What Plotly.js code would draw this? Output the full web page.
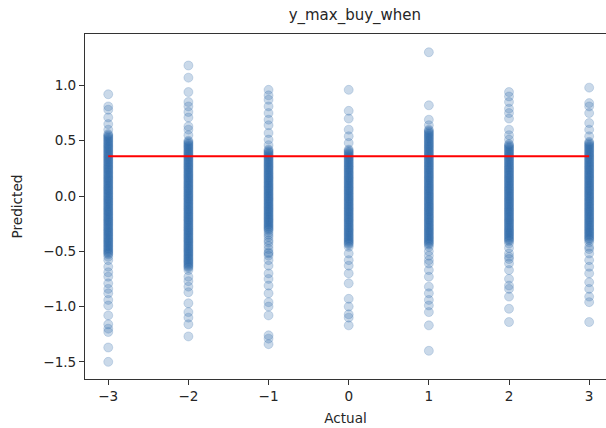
<!DOCTYPE html>
<html>
<head>
<meta charset="utf-8">
<script src="https://cdn.plot.ly/plotly-3.0.1.min.js"></script>
<style>html,body{margin:0;padding:0;background:#fff;}#chart{width:606px;height:428px;}</style>
</head>
<body>
<div id="chart"></div>
<script>
// Actual levels (x categories)
const actualLevels = [-3, -2, -1, 0, 1, 2, 3];

// Predicted values read per actual level (dense cores typed at ~0.01 spacing)
const predAtM3 = [0.92,0.81,0.78,0.71,0.65,0.60,
  0.56,0.55,0.54,0.53,0.52,0.51,0.50,0.49,0.48,0.47,
  0.46,0.45,0.44,0.43,0.42,0.41,0.40,0.39,0.38,0.37,
  0.36,0.35,0.34,0.33,0.32,0.31,0.30,0.29,0.28,0.27,
  0.26,0.25,0.24,0.23,0.22,0.21,0.20,0.19,0.18,0.17,
  0.16,0.15,0.14,0.13,0.12,0.11,0.10,0.09,0.08,0.07,
  0.06,0.05,0.04,0.03,0.02,0.01,0.00,-0.01,-0.02,-0.03,
  -0.04,-0.05,-0.06,-0.07,-0.08,-0.09,-0.10,-0.11,-0.12,-0.13,
  -0.14,-0.15,-0.16,-0.17,-0.18,-0.19,-0.20,-0.21,-0.22,-0.23,
  -0.24,-0.25,-0.26,-0.27,-0.28,-0.29,-0.30,-0.31,-0.32,-0.33,
  -0.34,-0.35,-0.36,-0.37,-0.38,-0.39,-0.40,-0.41,-0.42,-0.43,
  -0.44,-0.45,-0.46,-0.47,-0.48,-0.49,-0.50,-0.51,-0.52,-0.53,-0.55,
  -0.58,-0.64,-0.69,-0.73,-0.79,-0.84,-0.88,-0.94,-0.99,-1.08,-1.16,-1.20,-1.23,-1.37,-1.50];
const predAtM2 = [1.18,1.07,0.94,0.85,0.81,0.76,0.71,0.63,0.60,0.55,
  0.50,0.49,0.48,0.47,0.46,0.45,0.44,0.43,0.42,0.41,
  0.40,0.39,0.38,0.37,0.36,0.35,0.34,0.33,0.32,0.31,
  0.30,0.29,0.28,0.27,0.26,0.25,0.24,0.23,0.22,0.21,
  0.20,0.19,0.18,0.17,0.16,0.15,0.14,0.13,0.12,0.11,
  0.10,0.09,0.08,0.07,0.06,0.05,0.04,0.03,0.02,0.01,
  0.00,-0.01,-0.02,-0.03,-0.04,-0.05,-0.06,-0.07,-0.08,-0.09,
  -0.10,-0.11,-0.12,-0.13,-0.14,-0.15,-0.16,-0.17,-0.18,-0.19,
  -0.20,-0.21,-0.22,-0.23,-0.24,-0.25,-0.26,-0.27,-0.28,-0.29,
  -0.30,-0.31,-0.32,-0.33,-0.34,-0.35,-0.36,-0.37,-0.38,-0.39,
  -0.40,-0.41,-0.42,-0.43,-0.44,-0.45,-0.46,-0.47,-0.48,-0.49,
  -0.50,-0.51,-0.52,-0.53,-0.54,-0.55,-0.56,-0.57,-0.58,-0.59,
  -0.60,-0.61,-0.62,-0.63,-0.64,-0.65,-0.67,
  -0.73,-0.77,-0.82,-0.87,-0.97,-1.05,-1.10,-1.16,-1.27];
const predAtM1 = [0.96,0.91,0.87,0.81,0.75,0.69,0.64,0.57,0.51,0.46,
  0.42,0.41,0.40,0.39,0.38,0.37,0.36,0.35,0.34,0.33,
  0.32,0.31,0.30,0.29,0.28,0.27,0.26,0.25,0.24,0.23,
  0.22,0.21,0.20,0.19,0.18,0.17,0.16,0.15,0.14,0.13,
  0.12,0.11,0.10,0.09,0.08,0.07,0.06,0.05,0.04,0.03,
  0.02,0.01,0.00,-0.01,-0.02,-0.03,-0.04,-0.05,-0.06,-0.07,
  -0.08,-0.09,-0.10,-0.11,-0.12,-0.13,-0.14,-0.15,-0.16,-0.17,
  -0.18,-0.19,-0.20,-0.21,-0.22,-0.23,-0.24,-0.25,-0.26,-0.27,
  -0.28,-0.29,-0.30,-0.31,-0.33,-0.35,
  -0.37,-0.40,-0.42,-0.45,-0.48,-0.51,-0.52,-0.54,-0.58,-0.63,
  -0.70,-0.75,-0.81,-0.88,-0.96,-1.00,-1.08,-1.26,-1.29,-1.34];
const predAt0 = [0.96,0.77,0.70,0.60,0.54,0.48,
  0.42,0.41,0.40,0.39,0.38,0.37,0.36,0.35,0.34,0.33,
  0.32,0.31,0.30,0.29,0.28,0.27,0.26,0.25,0.24,0.23,
  0.22,0.21,0.20,0.19,0.18,0.17,0.16,0.15,0.14,0.13,
  0.12,0.11,0.10,0.09,0.08,0.07,0.06,0.05,0.04,0.03,
  0.02,0.01,0.00,-0.01,-0.02,-0.03,-0.04,-0.05,-0.06,-0.07,
  -0.08,-0.09,-0.10,-0.11,-0.12,-0.13,-0.14,-0.15,-0.16,-0.17,
  -0.18,-0.19,-0.20,-0.21,-0.22,-0.23,-0.24,-0.25,-0.26,-0.27,
  -0.28,-0.29,-0.30,-0.31,-0.32,-0.33,-0.34,-0.35,-0.36,-0.37,
  -0.38,-0.39,-0.40,-0.41,-0.42,-0.43,-0.44,-0.46,
  -0.52,-0.58,-0.63,-0.70,-0.79,-0.93,-1.00,-1.07,-1.10,-1.17];
const predAtP1 = [1.30,0.82,0.69,0.64,
  0.60,0.59,0.58,0.57,0.56,0.55,0.54,0.53,0.52,0.51,
  0.50,0.49,0.48,0.47,0.46,0.45,0.44,0.43,0.42,0.41,
  0.40,0.39,0.38,0.37,0.36,0.35,0.34,0.33,0.32,0.31,
  0.30,0.29,0.28,0.27,0.26,0.25,0.24,0.23,0.22,0.21,
  0.20,0.19,0.18,0.17,0.16,0.15,0.14,0.13,0.12,0.11,
  0.10,0.09,0.08,0.07,0.06,0.05,0.04,0.03,0.02,0.01,
  0.00,-0.01,-0.02,-0.03,-0.04,-0.05,-0.06,-0.07,-0.08,-0.09,
  -0.10,-0.11,-0.12,-0.13,-0.14,-0.15,-0.16,-0.17,-0.18,-0.19,
  -0.20,-0.21,-0.22,-0.23,-0.24,-0.25,-0.26,-0.27,-0.28,-0.29,
  -0.30,-0.31,-0.32,-0.33,-0.34,-0.35,-0.36,-0.37,-0.38,-0.39,
  -0.40,-0.41,-0.42,-0.43,-0.44,-0.46,
  -0.50,-0.54,-0.58,-0.61,-0.67,-0.73,-0.82,-0.88,-0.94,-0.99,-1.05,-1.17,-1.40];
const predAtP2 = [0.94,0.90,0.85,0.79,0.75,0.70,0.60,0.55,0.51,
  0.47,0.46,0.45,0.44,0.43,0.42,0.41,0.40,0.39,0.38,
  0.37,0.36,0.35,0.34,0.33,0.32,0.31,0.30,0.29,0.28,
  0.27,0.26,0.25,0.24,0.23,0.22,0.21,0.20,0.19,0.18,
  0.17,0.16,0.15,0.14,0.13,0.12,0.11,0.10,0.09,0.08,
  0.07,0.06,0.05,0.04,0.03,0.02,0.01,0.00,-0.01,-0.02,
  -0.03,-0.04,-0.05,-0.06,-0.07,-0.08,-0.09,-0.10,-0.11,-0.12,
  -0.13,-0.14,-0.15,-0.16,-0.17,-0.18,-0.19,-0.20,-0.21,-0.22,
  -0.23,-0.24,-0.25,-0.26,-0.27,-0.28,-0.29,-0.30,-0.31,-0.32,
  -0.33,-0.34,-0.35,-0.36,-0.37,-0.38,-0.39,-0.40,-0.41,-0.43,
  -0.47,-0.52,-0.55,-0.57,-0.61,-0.67,-0.75,-0.81,-0.84,-0.91,-1.02,-1.14];
const predAtP3 = [0.98,0.84,0.81,0.75,0.66,0.60,0.54,
  0.49,0.48,0.47,0.46,0.45,0.44,0.43,0.42,0.41,0.40,
  0.39,0.38,0.37,0.36,0.35,0.34,0.33,0.32,0.31,0.30,
  0.29,0.28,0.27,0.26,0.25,0.24,0.23,0.22,0.21,0.20,
  0.19,0.18,0.17,0.16,0.15,0.14,0.13,0.12,0.11,0.10,
  0.09,0.08,0.07,0.06,0.05,0.04,0.03,0.02,0.01,0.00,
  -0.01,-0.02,-0.03,-0.04,-0.05,-0.06,-0.07,-0.08,-0.09,-0.10,
  -0.11,-0.12,-0.13,-0.14,-0.15,-0.16,-0.17,-0.18,-0.19,-0.20,
  -0.21,-0.22,-0.23,-0.24,-0.25,-0.26,-0.27,-0.28,-0.29,-0.30,
  -0.31,-0.32,-0.33,-0.34,-0.35,-0.36,-0.37,-0.38,-0.39,-0.40,-0.42,
  -0.46,-0.48,-0.52,-0.58,-0.64,-0.70,-0.78,-0.84,-0.91,-0.96,-1.14];

// Reference (mean prediction) line
const lineX = [-3, 3];
const lineY = [0.36, 0.36];

const xTicks = [-3, -2, -1, 0, 1, 2, 3];
const yTicks = [-1.5, -1.0, -0.5, 0.0, 0.5, 1.0];

const columns = [predAtM3, predAtM2, predAtM1, predAt0, predAtP1, predAtP2, predAtP3];
const xs = [], ys = [];
columns.forEach((col, i) => col.forEach(v => { xs.push(actualLevels[i]); ys.push(v); }));

const font = 'DejaVu Sans, sans-serif';
const txt = '#262626';
const traces = [
  {x: xs, y: ys, type: 'scatter', mode: 'markers',
   marker: {size: 9, color: 'rgba(44,104,168,0.25)', line: {width: 1, color: 'rgba(44,104,168,0.2)'}},
   hoverinfo: 'skip', showlegend: false},
  {x: lineX, y: lineY, type: 'scatter', mode: 'lines',
   line: {color: '#ff0000', width: 2}, hoverinfo: 'skip', showlegend: false}
];

const layout = {
  width: 606, height: 428,
  margin: {l: 85, r: 0, t: 34, b: 49, pad: 0},
  paper_bgcolor: '#fff', plot_bgcolor: '#fff',
  font: {family: font, color: txt, size: 13.6},
  title: {text: 'y_max_buy_when', font: {family: font, size: 15, color: txt},
          x: 0.518, xanchor: 'center', y: 1 - 15/428, yanchor: 'middle', xref: 'paper', yref: 'container'},
  xaxis: {range: [-3.29, 3.21], tickmode: 'array', tickvals: xTicks, ticktext: xTicks.map(v => v < 0 ? '\u2212' + Math.abs(v) : String(v)),
          showgrid: false, zeroline: false, showline: true, linecolor: '#333', linewidth: 1, mirror: true,
          ticks: 'outside', ticklen: 5, tickcolor: '#333', tickfont: {family: font, size: 13.6, color: txt},
          title: {text: 'Actual', font: {family: font, size: 13.6, color: txt}, standoff: 10}},
  yaxis: {range: [-1.655, 1.465], tickmode: 'array', tickvals: yTicks, ticktext: yTicks.map(v => (v < 0 ? '\u2212' : '') + Math.abs(v).toFixed(1)),
          showgrid: false, zeroline: false, showline: true, linecolor: '#333', linewidth: 1, mirror: false,
          ticks: 'outside', ticklen: 5, tickcolor: '#333', tickfont: {family: font, size: 13.6, color: txt},
          title: {text: 'Predicted', font: {family: font, size: 13.6, color: txt}, standoff: 17}}
};

Plotly.newPlot('chart', traces, layout, {staticPlot: true, displayModeBar: false});
</script>
</body>
</html>
